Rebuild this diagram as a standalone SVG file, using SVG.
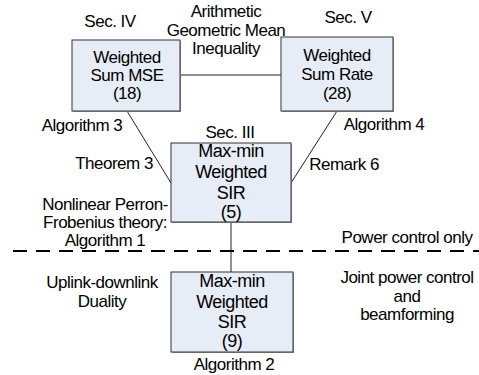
<svg xmlns="http://www.w3.org/2000/svg" width="479" height="375" viewBox="0 0 479 375">
<style>
text{font-family:"Liberation Sans",Arial,sans-serif;font-size:17px;letter-spacing:-0.5px;fill:#000;text-anchor:middle}
.big{font-size:18px}
.box{fill:#E7EDF6;stroke:#333;stroke-width:1}
.sh{fill:#9a9a9a}
.ln{stroke:#222;stroke-width:1;fill:none}
.dash{stroke:#000;stroke-width:2;stroke-dasharray:14 9;fill:none}
</style>
<rect width="479" height="375" fill="#fff"/>
<g id="connectors">
<line class="ln" x1="180" y1="75" x2="281" y2="75"/>
<line class="ln" x1="127" y1="111" x2="171" y2="183"/>
<line class="ln" x1="337" y1="111" x2="291" y2="183"/>
<line class="ln" x1="231" y1="222" x2="231" y2="272"/>
</g>
<path class="dash" d="M13 251 H479"/>
<g id="node-mse">
<rect class="sh" x="73" y="41" width="108" height="71"/>
<rect class="box" x="72" y="40" width="108" height="71"/>
<text x="127" y="63">Weighted</text>
<text x="127" y="81">Sum MSE</text>
<text x="127" y="99">(18)</text>
</g>
<g id="node-rate">
<rect class="sh" x="282" y="38" width="112" height="74"/>
<rect class="box" x="281" y="37" width="112" height="74"/>
<text x="337" y="61">Weighted</text>
<text x="337" y="80">Sum Rate</text>
<text x="337" y="99">(28)</text>
</g>
<g id="node-sir5">
<rect class="sh" x="172" y="144" width="120" height="79"/>
<rect class="box" x="171" y="143" width="120" height="79"/>
<text class="big" x="231" y="157">Max-min</text>
<text class="big" x="231" y="178">Weighted</text>
<text class="big" x="231" y="199">SIR</text>
<text class="big" x="231" y="218">(5)</text>
</g>
<g id="node-sir9">
<rect class="sh" x="172" y="273" width="122" height="80"/>
<rect class="box" x="171" y="272" width="122" height="80"/>
<text class="big" x="232" y="287">Max-min</text>
<text class="big" x="232" y="308">Weighted</text>
<text class="big" x="232" y="328">SIR</text>
<text class="big" x="232" y="347">(9)</text>
</g>
<g id="labels">
<text x="110" y="27">Sec. IV</text>
<text x="348" y="23">Sec. V</text>
<text x="230" y="138">Sec. III</text>
<text x="226" y="17">Arithmetic</text>
<text x="226" y="36">Geometric Mean</text>
<text x="226" y="54">Inequality</text>
<text x="82" y="131">Algorithm 3</text>
<text x="114" y="169">Theorem 3</text>
<text x="384" y="130">Algorithm 4</text>
<text x="344" y="170">Remark 6</text>
<text x="105" y="210">Nonlinear Perron-</text>
<text x="105" y="228">Frobenius theory:</text>
<text x="105" y="246">Algorithm 1</text>
<text x="407" y="243">Power control only</text>
<text x="102" y="288">Uplink-downlink</text>
<text x="102" y="307">Duality</text>
<text x="407" y="283">Joint power control</text>
<text x="407" y="302">and</text>
<text x="407" y="320">beamforming</text>
<text x="234" y="370">Algorithm 2</text>
</g>
</svg>
